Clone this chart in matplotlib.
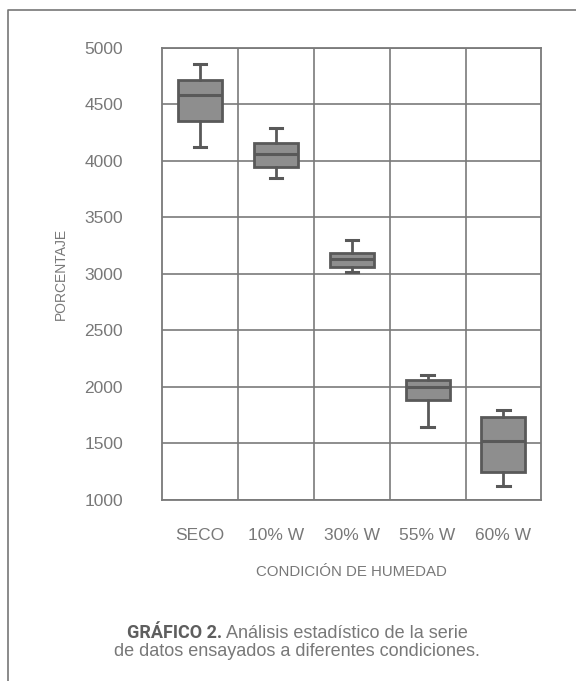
import matplotlib
matplotlib.use('Agg')
import matplotlib.pyplot as plt
from matplotlib.lines import Line2D

plt.rcParams['font.family'] = ['Liberation Sans', 'DejaVu Sans']

# condiciones de humedad y estadisticos
categorias = ['SECO', '10% W', '30% W', '55% W', '60% W']
minimos = [4125, 3850, 3015, 1645, 1125]
q1 = [4355, 3940, 3060, 1887, 1245]
medianas = [4585, 4060, 3128, 1996, 1521]
q3 = [4710, 4155, 3187, 2062, 1729]
maximos = [4857, 4291, 3298, 2102, 1796]

yticks = [1000, 1500, 2000, 2500, 3000, 3500, 4000, 4500, 5000]

gris_txt = '#787878'
gris_lin = '#7a7a7a'
gris_box = '#8e8e8e'
gris_borde = '#595959'

stats = []
for i in range(len(categorias)):
    stats.append({'label': categorias[i], 'whislo': minimos[i], 'q1': q1[i],
                  'med': medianas[i], 'q3': q3[i], 'whishi': maximos[i], 'fliers': []})

fig = plt.figure(figsize=(5.76, 6.81), dpi=100)
ax = fig.add_axes([0.281, 0.266, 0.659, 0.664])

pos = list(range(1, len(categorias) + 1))
ax.bxp(stats, positions=pos, widths=0.58, capwidths=0.16, patch_artist=True,
       showfliers=False,
       boxprops=dict(facecolor=gris_box, edgecolor=gris_borde, linewidth=2),
       medianprops=dict(color=gris_borde, linewidth=2.2),
       whiskerprops=dict(color=gris_borde, linewidth=2),
       capprops=dict(color=gris_borde, linewidth=2.2), zorder=3)

ax.set_xlim(0.5, len(categorias) + 0.5)
ax.set_ylim(1000, 5000)
ax.set_yticks(yticks)
ax.set_xticks(pos)
ax.set_xticklabels(categorias)
ax.set_xticks([p + 0.5 for p in pos[:-1]], minor=True)
ax.grid(True, which='major', axis='y', color=gris_lin, linewidth=1.2, zorder=0)
ax.grid(True, which='minor', axis='x', color=gris_lin, linewidth=1.2, zorder=0)
ax.tick_params(which='both', length=0)
ax.tick_params(axis='y', pad=28, labelsize=12.5, labelcolor=gris_txt)
ax.tick_params(axis='x', pad=20, labelsize=12.5, labelcolor=gris_txt)
for s in ax.spines.values():
    s.set_color(gris_lin)
    s.set_linewidth(1.3)

ax.set_ylabel('PORCENTAJE', fontsize=10, color=gris_txt, labelpad=12)
ax.set_xlabel('CONDICIÓN DE HUMEDAD', fontsize=10.8, color=gris_txt, labelpad=16)

# marco de la figura
fig.add_artist(Line2D([0.014, 0.014, 1.0], [0.0, 0.985, 0.985], color='#777777', linewidth=1.2))

# pie de figura
xc = 0.516
fig.text(xc, 0.036, 'de datos ensayados a diferentes condiciones.', ha='center',
         fontsize=13, color=gris_txt)
t1 = fig.text(0, 0.063, 'GRÁFICO 2.', ha='left', fontsize=13, color='#5e5e5e',
              fontweight='bold', family=['Roboto', 'DejaVu Sans'], fontstretch='condensed')
t2 = fig.text(0, 0.063, ' Análisis estadístico de la serie', ha='left', fontsize=13,
              color=gris_txt)
fig.canvas.draw()
w1 = t1.get_window_extent().width / fig.bbox.width
w2 = t2.get_window_extent().width / fig.bbox.width
x0 = xc - (w1 + w2) / 2
t1.set_x(x0)
t2.set_x(x0 + w1)

fig.savefig('out.png', dpi=100)
